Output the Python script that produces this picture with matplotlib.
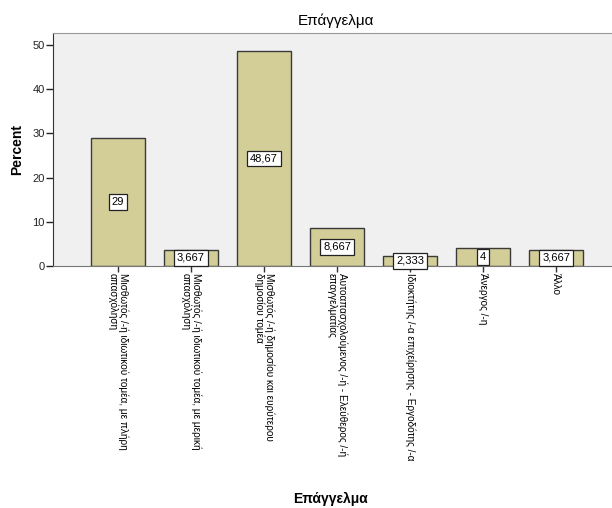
import matplotlib
matplotlib.use('Agg')
import matplotlib.pyplot as plt

plt.rcParams['font.family'] = ['Liberation Sans', 'DejaVu Sans']

categories = ['Μισθωτός /-ή ιδιωτικού τομέα, με πλήρη\nαπασχόληση',
              'Μισθωτός /-ή ιδιωτικού τομέα, με μερική\nαπασχόληση',
              'Μισθωτός /-ή δημοσίου και ευρύτερου\nδημοσίου τομέα',
              'Αυτοαπασχολούμενος /-ή - Ελεύθερος /-ή\nεπαγγελματίας',
              'Ιδιοκτήτης /-α επιχείρησης - Εργοδότης /-α',
              'Άνεργος /-η',
              'Άλλο']
percent = [29, 3.667, 48.67, 8.667, 2.333, 4, 3.667]
value_labels = ['29', '3,667', '48,67', '8,667', '2,333', '4', '3,667']

fig = plt.figure(figsize=(6.12, 5.08), dpi=100)
ax = fig.add_axes([53/612, 1-266/508, 1-53/612+0.01, 233/508])
ax.set_facecolor('#f0f0f0')

x = list(range(len(categories)))
ax.bar(x, percent, width=0.75, color='#d3ce98', edgecolor='#3a3a3a', linewidth=1.0, zorder=2)

# value boxes in the middle of each bar
for xi, v, lab in zip(x, percent, value_labels):
    ax.text(xi, v/2, lab, ha='center', va='center', fontsize=8, zorder=3,
            bbox=dict(boxstyle='square,pad=0.25', facecolor='white', edgecolor='#222222', linewidth=0.9))

ax.set_xlim(-0.89, 6.85)
ax.set_ylim(0, 52.7)
ax.set_yticks([0, 10, 20, 30, 40, 50])
ax.tick_params(axis='y', direction='out', length=5, width=1, labelsize=8, colors='#222222', pad=1)
ax.set_xticks(x)
ax.set_xticklabels([])
ax.tick_params(axis='x', direction='out', length=4, width=1, color='#333333')

for xi, lab in zip(x, categories):
    ax.annotate(lab, xy=(xi, 0), xycoords=('data', 'axes fraction'),
                xytext=(0, -5), textcoords='offset points',
                rotation=270, rotation_mode='anchor', ha='left', va='center',
                fontsize=7.2, linespacing=1.0, annotation_clip=False)

for s in ['left', 'bottom']:
    ax.spines[s].set_color('#333333')
ax.spines['top'].set_color('#999999')
ax.spines['right'].set_visible(False)
ax.spines['bottom'].set_color('#777777')

ax.set_ylabel('Percent', fontsize=10, fontweight='bold', labelpad=6)
ax.set_title('Επάγγελμα', fontsize=11, pad=6)
fig.text(0.54, 0.018, 'Επάγγελμα', ha='center', va='center', fontsize=10, fontweight='bold')

fig.savefig('out.png', dpi=100, facecolor='white')
